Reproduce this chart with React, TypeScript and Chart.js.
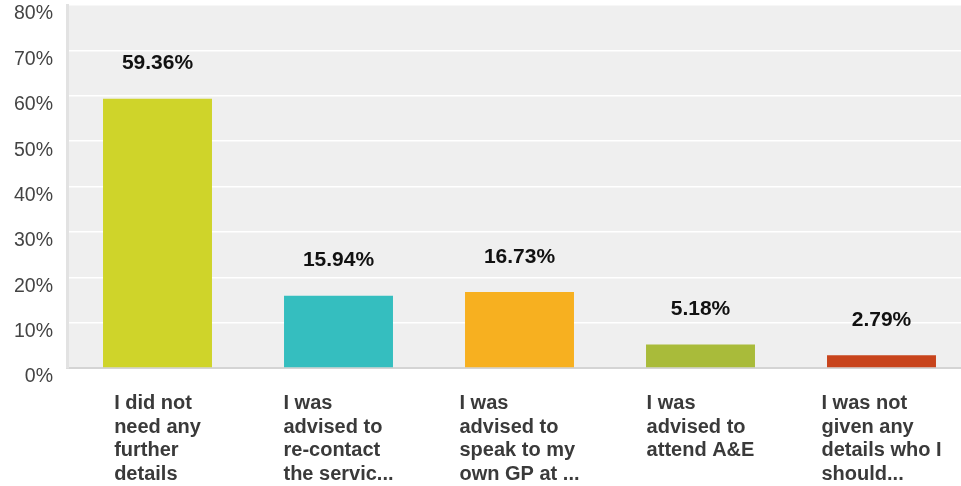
import React, { useEffect, useRef } from "react";
import { Chart, registerables } from "chart.js";

Chart.register(...registerables);

const categories: string[][] = [
  ["I did not", "need any", "further", "details"],
  ["I was", "advised to", "re-contact", "the servic..."],
  ["I was", "advised to", "speak to my", "own GP at ..."],
  ["I was", "advised to", "attend A&E"],
  ["I was not", "given any", "details who I", "should..."],
];
const values: number[] = [59.36, 15.94, 16.73, 5.18, 2.79];
const valueLabels: string[] = ["59.36%", "15.94%", "16.73%", "5.18%", "2.79%"];
const barColors: string[] = ["#cfd42a", "#35bebf", "#f7b020", "#a9bb3a", "#c8441c"];
const yMax = 80;
const yStep = 10;

const FONT = "'Liberation Sans', Arial, sans-serif";

export default function App() {
  const ref = useRef<HTMLCanvasElement | null>(null);

  useEffect(() => {
    document.body.style.margin = "0";
    const canvas = ref.current;
    if (!canvas) return;

    const bgPlugin = {
      id: "plotBg",
      beforeDraw(chart: any) {
        const { ctx, chartArea } = chart;
        ctx.save();
        ctx.fillStyle = "#efefef";
        ctx.fillRect(chartArea.left, chartArea.top, chartArea.right - chartArea.left, chartArea.bottom - chartArea.top);
        ctx.restore();
      },
    };

    const labelsPlugin = {
      id: "customLabels",
      afterDatasetsDraw(chart: any) {
        const { ctx, chartArea } = chart;
        const meta = chart.getDatasetMeta(0);
        ctx.save();
        ctx.font = `bold 21px ${FONT}`;
        ctx.fillStyle = "#111111";
        ctx.textAlign = "center";
        ctx.textBaseline = "middle";
        meta.data.forEach((bar: any, i: number) => {
          ctx.fillText(valueLabels[i], bar.x, bar.y - 35);
        });
        const xScale = chart.scales.x;
        ctx.font = `bold 20px ${FONT}`;
        ctx.fillStyle = "#3a3a3a";
        ctx.textAlign = "left";
        ctx.textBaseline = "alphabetic";
        categories.forEach((lines, i) => {
          const cx = xScale.getPixelForValue(i);
          const maxW = Math.max(...lines.map((l) => ctx.measureText(l).width));
          const x0 = cx - maxW / 2;
          lines.forEach((line, j) => {
            ctx.fillText(line, x0, chartArea.bottom + 41 + j * 23.7);
          });
        });
        ctx.restore();
      },
    };

    const chart = new Chart(canvas, {
      type: "bar",
      data: {
        labels: categories.map((c) => c.join(" ")),
        datasets: [
          {
            data: values,
            backgroundColor: barColors,
            borderWidth: 0,
            barPercentage: 0.602,
            categoryPercentage: 1,
          },
        ],
      },
      options: {
        responsive: false,
        animation: false,
        devicePixelRatio: 1,
        layout: { padding: { top: 5, left: 0, right: 0, bottom: 0 } },
        plugins: {
          legend: { display: false },
          tooltip: { enabled: false },
        },
        scales: {
          x: {
            grid: { display: false, drawTicks: false },
            border: { display: true, color: "#d4d4d4", width: 2 },
            ticks: { display: false },
            afterFit(scale: any) {
              scale.height = 118;
              scale.paddingLeft = 0;
              scale.paddingRight = 0;
            },
          },
          y: {
            min: 0,
            max: yMax,
            grid: { color: "#ffffff", lineWidth: 1.5, drawTicks: false },
            border: { display: true, color: "#e2e2e2", width: 3 },
            ticks: {
              stepSize: yStep,
              padding: 14,
              labelOffset: 9,
              color: "#444444",
              font: { family: FONT, size: 19.5 },
              callback: (v: any) => `${v}%`,
            },
            afterFit(scale: any) {
              scale.width = 67;
              scale.paddingTop = 0;
              scale.paddingBottom = 0;
            },
          },
        },
      },
      plugins: [bgPlugin, labelsPlugin],
    });

    return () => chart.destroy();
  }, []);

  return (
    <div style={{ position: "fixed", left: 0, top: 0, width: 961, height: 486, overflow: "hidden", background: "#ffffff" }}>
      <canvas ref={ref} width={972} height={486} style={{ width: 972, height: 486, display: "block" }} />
    </div>
  );
}
